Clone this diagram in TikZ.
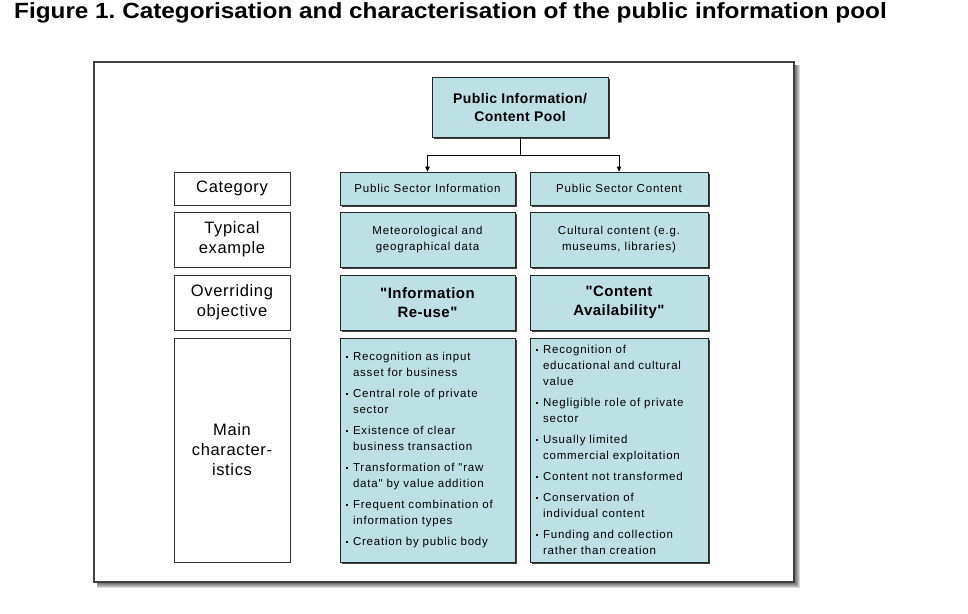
\documentclass[tikz,border=0pt]{standalone}
\usepackage{fontspec}
\setmainfont{Liberation Sans}[Ligatures=TeXOff]
\usetikzlibrary{arrows.meta,shadows}
\definecolor{boxblue}{RGB}{189,224,228}
\newcommand\bul{\makebox[7pt][l]{\rule[2.7pt]{2pt}{2pt}}}
\newcommand\ind{\hspace*{7pt}}
\frenchspacing
\begin{document}
\begin{tikzpicture}[x=1pt,y=-1pt,
  bluebox/.style={draw=black!85,line width=0.8pt,fill=boxblue,align=center,inner sep=4pt,
    drop shadow={shadow xshift=1.6pt,shadow yshift=-1.6pt,fill=black!75,opacity=1}},
  labelbox/.style={draw=black!80,line width=0.8pt,fill=white,align=center,inner sep=2pt,
    font=\fontsize{16.5}{20}\selectfont\addfontfeature{LetterSpace=4}},
  smalltxt/.style={font=\fontsize{11.5}{16}\selectfont\addfontfeature{LetterSpace=7}},
  objtxt/.style={font=\fontsize{15}{19}\selectfont\bfseries\addfontfeature{LetterSpace=3}},
  conn/.style={draw=black,line width=0.8pt},
  arr/.style={conn,-{Triangle[length=5pt,width=4.5pt]}}]
\useasboundingbox (0,0) rectangle (968,613);
% title
\node[anchor=base west,inner sep=0,font=\fontsize{22}{24}\selectfont\bfseries] (title) at (14,18.5) {\scalebox{1.105}[1]{Figure 1. Categorisation and characterisation of the public information pool}};
% frame with shadow
\foreach \i in {1,...,6}{\fill[black,opacity=0.14] (97,65) rectangle (794+\i,582+\i);}
\node[draw=black!75,line width=1.2pt,fill=white,minimum width=700,minimum height=520,inner sep=0] (frame) at (444,322) {};
% top
\node[bluebox,minimum width=176,minimum height=60,font=\fontsize{14}{18}\selectfont\bfseries\addfontfeature{LetterSpace=3}] (top) at (520,107) {Public Information/\\Content Pool};
% rows: labels
\node[labelbox,minimum width=116,minimum height=33] (lcat) at (232,188.5) {Category};
\node[labelbox,minimum width=116,minimum height=55] (lex) at (232,239.5) {Typical\\example};
\node[labelbox,minimum width=116,minimum height=55] (lobj) at (232,302.5) {Overriding\\objective};
\node[labelbox,minimum width=116,minimum height=224] (lmain) at (232,450) {Main\\character-\\istics};
% middle column
\node[bluebox,smalltxt,minimum width=175,minimum height=33] (psi) at (427.5,188.5) {Public Sector Information};
\node[bluebox,smalltxt,minimum width=175,minimum height=55] (exi) at (427.5,239.5) {Meteorological and\\geographical data};
\node[bluebox,objtxt,minimum width=175,minimum height=55] (obi) at (427.5,302.5) {"Information\\Re-use"};
\node[bluebox,smalltxt,minimum width=175,minimum height=224,text width=163,align=left,inner sep=6pt] (mai) at (427.5,450) {%
\bul Recognition as input\\ \ind asset for business\\[5pt]
\bul Central role of private\\ \ind sector\\[5pt]
\bul Existence of clear\\ \ind business transaction\\[5pt]
\bul Transformation of "raw\\ \ind data" by value addition\\[5pt]
\bul Frequent combination of\\ \ind information types\\[5pt]
\bul Creation by public body};
% right column
\node[bluebox,smalltxt,minimum width=178,minimum height=33] (psc) at (619,188.5) {Public Sector Content};
\node[bluebox,smalltxt,minimum width=178,minimum height=55] (exc) at (619,239.5) {Cultural content (e.g.\\museums, libraries)};
\node[bluebox,objtxt,minimum width=178,minimum height=55] (obc) at (619,302.5) {"Content\\Availability"};
\node[bluebox,smalltxt,minimum width=178,minimum height=224,text width=166,align=left,inner sep=6pt] (mac) at (619,450) {%
\bul Recognition of\\ \ind educational and cultural\\ \ind value\\[5pt]
\bul Negligible role of private\\ \ind sector\\[5pt]
\bul Usually limited\\ \ind commercial exploitation\\[5pt]
\bul Content not transformed\\[5pt]
\bul Conservation of\\ \ind individual content\\[5pt]
\bul Funding and collection\\ \ind rather than creation};
% connectors
\coordinate (j) at (520,155);
\draw[conn] (top.south) -- (j);
\draw[arr] (j) -| (psi.north);
\draw[arr] (j) -| (psc.north);
\end{tikzpicture}
\end{document}
